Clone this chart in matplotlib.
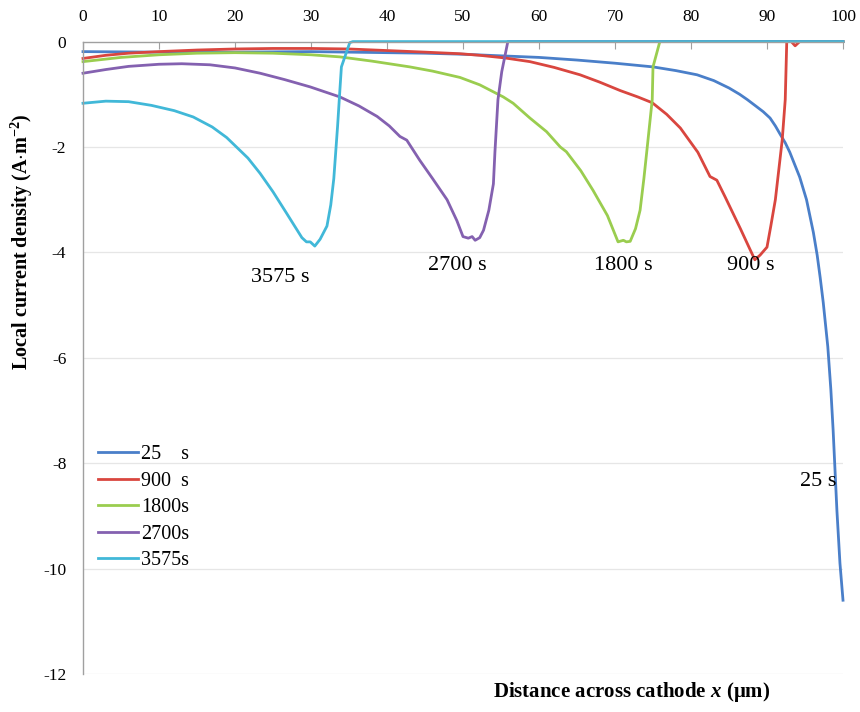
import matplotlib
matplotlib.use("Agg")
import matplotlib.pyplot as plt

plt.rcParams['font.family'] = ['Liberation Serif', 'DejaVu Serif']
plt.rcParams['axes.unicode_minus'] = False
plt.rcParams['mathtext.fontset'] = 'custom'
plt.rcParams['mathtext.rm'] = 'Liberation Serif:bold'
plt.rcParams['mathtext.bf'] = 'Liberation Serif:bold'
plt.rcParams['mathtext.it'] = 'Liberation Serif:italic:bold'

# distancia (um) y densidad de corriente local (A/m2) para cada tiempo
x_25 = [0, 10, 20, 30, 40, 45, 50, 55, 60, 65, 70, 75, 78, 80.8, 83, 85, 86.4, 87.4, 88.5,
        89.5, 90.4, 91.1, 91.7, 92.4, 93, 94.3, 95.2, 96.1, 96.6, 97, 97.4, 98, 98.4, 98.7,
        99.2, 99.6, 100]
y_25 = [-0.19, -0.2, -0.2, -0.19, -0.21, -0.22, -0.24, -0.27, -0.3, -0.35, -0.41, -0.48,
        -0.55, -0.63, -0.74, -0.88, -1.0, -1.1, -1.22, -1.33, -1.45, -1.6, -1.75, -1.92, -2.1,
        -2.57, -3.0, -3.62, -4.05, -4.48, -4.95, -5.79, -6.6, -7.37, -8.9, -9.9, -10.6]

x_900 = [0, 3, 6, 10, 15, 20, 25, 30, 35, 40, 45, 49.6, 52.2, 55.5, 58.8, 62, 65.4, 68, 70.7,
         73, 74.9, 76.8, 78.6, 80.9, 82.5, 83.4, 84.5, 85.5, 86.5, 87.4, 88.4, 89.1, 90, 90.5,
         91.1, 92, 92.4, 92.6, 93.2, 93.7, 94.3, 100]
y_900 = [-0.32, -0.26, -0.22, -0.19, -0.16, -0.14, -0.13, -0.13, -0.14, -0.17, -0.2, -0.23,
         -0.26, -0.31, -0.38, -0.49, -0.63, -0.77, -0.93, -1.05, -1.16, -1.38, -1.64, -2.1,
         -2.56, -2.63, -2.95, -3.25, -3.55, -3.83, -4.14, -4.05, -3.9, -3.5, -3.0, -1.87, -1.1,
         0.0, 0.0, -0.08, 0.0, 0.0]

x_1800 = [0, 5, 10, 15, 20, 25, 30, 33.8, 38, 43, 46, 49.6, 52.2, 55.3, 56.6, 58.8, 61, 62.8,
          63.6, 65.5, 67.1, 69, 70.4, 71.1, 71.5, 72, 72.7, 73.3, 73.8, 74.2, 74.9, 75.0, 75.9,
          100]
y_1800 = [-0.38, -0.3, -0.25, -0.22, -0.21, -0.22, -0.25, -0.29, -0.37, -0.48, -0.56, -0.68,
          -0.82, -1.05, -1.17, -1.45, -1.71, -2.0, -2.09, -2.45, -2.82, -3.3, -3.8, -3.77, -3.8,
          -3.79, -3.55, -3.2, -2.6, -2.06, -1.1, -0.48, 0.0, 0.0]

x_2700 = [0, 3, 6, 10, 13, 16.7, 20, 23.3, 26.5, 29.9, 33.8, 36.3, 38.7, 40.3, 41.7, 42.6,
          44.3, 46, 47.9, 49.2, 50, 50.7, 51.2, 51.6, 52.2, 52.7, 53.4, 54.0, 54.2, 54.6, 55.1,
          55.9, 100]
y_2700 = [-0.6, -0.53, -0.47, -0.43, -0.42, -0.44, -0.5, -0.6, -0.72, -0.86, -1.05, -1.22,
          -1.42, -1.6, -1.8, -1.87, -2.25, -2.6, -3.0, -3.4, -3.7, -3.73, -3.7, -3.77, -3.72,
          -3.58, -3.2, -2.7, -2.1, -1.1, -0.57, 0.0, 0.0]

x_3575 = [0, 3, 6, 9, 12, 14.5, 17, 18.9, 21.7, 23.3, 25, 26.8, 28.8, 29.4, 29.9, 30.5, 31.2,
          32.1, 32.6, 33.0, 33.2, 33.5, 33.8, 34.0, 35.1, 35.5, 100]
y_3575 = [-1.17, -1.13, -1.14, -1.21, -1.31, -1.43, -1.62, -1.82, -2.21, -2.5, -2.85, -3.26,
          -3.72, -3.8, -3.8, -3.88, -3.75, -3.5, -3.1, -2.6, -2.2, -1.6, -0.92, -0.48, -0.02,
          0.0, 0.0]

series = [
    (x_25, y_25, '25    s', '#4a7fc9'),
    (x_900, y_900, '900  s', '#d9463f'),
    (x_1800, y_1800, '1800s', '#9acd4f'),
    (x_2700, y_2700, '2700s', '#8461b0'),
    (x_3575, y_3575, '3575s', '#41b8d8'),
]

# etiquetas junto a cada curva
etiquetas = ['3575 s', '2700 s', '1800 s', '900 s', '25 s']
etiq_x = [26.0, 49.2, 71.1, 87.8, 96.7]
etiq_y = [-4.47, -4.24, -4.24, -4.24, -8.34]

fig = plt.figure(figsize=(8.6, 7.12), dpi=100)
ax = fig.add_axes([83 / 860, 1 - 674 / 712, 760 / 860, (674 - 41.6) / 712])

for xs, ys, nombre, color in series:
    ax.plot(xs, ys, color=color, lw=2.0, label=nombre, clip_on=False)

for texto, ex, ey in zip(etiquetas, etiq_x, etiq_y):
    ax.text(ex, ey, texto, fontsize=16, ha='center', va='center')

ax.set_xlim(0, 100)
ax.set_ylim(-12, 0)
ax.set_xticks(range(0, 101, 10))
ax.set_yticks(range(-12, 1, 2))
ax.xaxis.tick_top()
ax.tick_params(axis='x', direction='in', length=5, color='#a0a0a0', labelsize=12.5, pad=12)
ax.tick_params(axis='y', length=0, labelsize=12.5, pad=12)

for lado in ['right', 'bottom']:
    ax.spines[lado].set_visible(False)
for lado in ['left', 'top']:
    ax.spines[lado].set_color('#a0a0a0')
    ax.spines[lado].set_linewidth(1.0)

for yv in range(-12, 0, 2):
    ax.axhline(yv, color='#e6e6e6', lw=0.9, zorder=0)

ax.legend(loc='upper left', bbox_to_anchor=(0.0197, 0.362), frameon=False, fontsize=14.5,
          handlelength=2.0, handletextpad=0.15, labelspacing=0.37, borderpad=0,
          borderaxespad=0)

fig.text(22 / 860, 1 - 242 / 712, 'Local current density (A$\\cdot$m$^{-2}$)', rotation=90,
         ha='center', va='center', fontsize=14.5, fontweight='bold')
fig.text(632 / 860, 1 - 692 / 712, 'Distance across cathode $x$ (\u03bcm)', ha='center',
         va='center', fontsize=15, fontweight='bold')

fig.savefig('out.png', dpi=100)
